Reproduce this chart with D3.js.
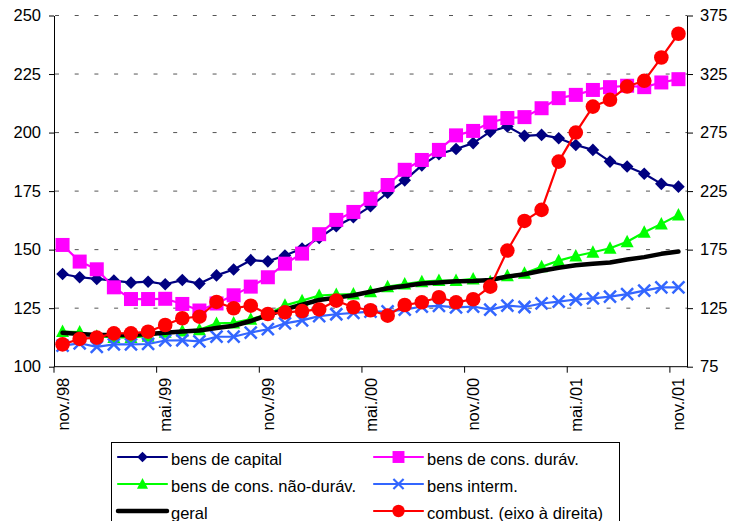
<!DOCTYPE html>
<html><head><meta charset="utf-8">
<script src="https://cdn.jsdelivr.net/npm/d3@7/dist/d3.min.js"></script>
<style>
html,body{margin:0;padding:0;background:#fff;}
svg{display:block;font-family:"Liberation Sans",Arial,sans-serif;}
</style></head>
<body>
<script>
const months = ["nov./98","dez./98","jan./99","fev./99","mar./99","abr./99","mai./99","jun./99","jul./99","ago./99","set./99","out./99",
"nov./99","dez./99","jan./00","fev./00","mar./00","abr./00","mai./00","jun./00","jul./00","ago./00","set./00","out./00",
"nov./00","dez./00","jan./01","fev./01","mar./01","abr./01","mai./01","jun./01","jul./01","ago./01","set./01","out./01","nov./01"];

const bensCapital = [139.6,138.2,137.5,136.8,135.9,136.3,135.2,137,135.5,139,141.5,145.5,145,147.5,150.5,155,160,163.8,168.5,174.3,179.6,186,190.8,193,195.5,200.4,202.6,198.6,199,197.6,194.7,192.6,187.6,185.5,182.4,178.1,176.9];
const bensDuraveis = [152,144.9,141.6,133.9,128.9,128.9,129,126.8,124,127,130.5,134.2,138.2,144,148.3,156.6,162.7,166.1,171.7,177.6,184.1,188.3,192.6,198.8,200.7,204.3,206.2,206.6,210.4,214.7,216.1,218.2,219.4,220,219.4,221.4,222.8];
const bensNaoDuraveis = [115,114.8,113,112.5,112.5,113,114.7,115.3,115.8,118.5,118.7,120.3,122.4,126.2,128.2,130.4,130.8,131,132,134.2,135.3,136.3,136.8,136.8,137.5,136.3,138.8,139.9,142.7,145.3,147.3,148.9,150.6,153.4,157.4,161,164.8];
const bensInterm = [109,110,108.5,109.5,109.5,109.7,111.2,111.3,110.8,112.8,112.8,114.6,116,118.5,119.8,121.6,122.4,123,123.5,123.6,124.4,125.7,126,125.3,125.7,124.4,126.1,125.5,127,127.8,128.7,129.2,129.9,131,132.5,133.9,133.9];
const geral = [114.5,114,113.5,113.5,113.5,114,114.5,115,115.5,116.5,117.5,119.5,122,124.5,126.5,128.5,129.5,130.5,132,133.5,134.5,135.5,136,136.5,136.6,137,138.5,139.5,141,142.3,143.3,144,144.5,145.8,146.8,148.2,149.2];
const combust = [94.1,98.7,99.8,103.5,103.5,104.9,110.6,116.4,117.7,130.3,124.9,127.1,120,121.4,122.5,123.9,131.4,125.8,123.2,118.6,127.7,130,134.3,130,132.6,143.4,174.2,199.5,209,250.2,275,297.2,303,314.3,319.2,339.1,359.4];

const leftTicks = [100,125,150,175,200,225,250];
const rightTicks = [75,125,175,225,275,325,375];
const xLabelEvery = 6;

const W = 729, H = 521;
const plotL = 54, plotR = 687, plotT = 15.5, plotB = 366.7;

const svg = d3.select("body").append("svg").attr("width", W).attr("height", H);

const x = d3.scaleBand().domain(months).range([plotL, plotR]).paddingInner(0).paddingOuter(0);
const yL = d3.scaleLinear().domain([100, 250]).range([plotB, plotT]);
const yR = d3.scaleLinear().domain([75, 375]).range([plotB, plotT]);
const cx = m => x(m) + x.bandwidth() / 2;

// gridlines
svg.append("g").selectAll("line").data(leftTicks.filter(v => v > 100)).join("line")
  .attr("x1", plotL).attr("x2", plotR)
  .attr("y1", d => yL(d)).attr("y2", d => yL(d))
  .attr("stroke", "#555").attr("stroke-width", 1).attr("stroke-dasharray", "4,15.7")
  .attr("stroke-dashoffset", -1);

const fs = 16.5;
// left axis
const gL = svg.append("g").attr("transform", `translate(${plotL},0)`)
  .call(d3.axisLeft(yL).tickValues(leftTicks).tickSize(5).tickSizeOuter(0).tickPadding(8));
gL.select(".domain").attr("stroke", "#000");
gL.selectAll("line").attr("stroke", "#000");
gL.selectAll("text").attr("font-size", fs).attr("font-family", "Liberation Sans, Arial, sans-serif").attr("fill", "#000");

// right axis
const gR = svg.append("g").attr("transform", `translate(${plotR},0)`)
  .call(d3.axisRight(yR).tickValues(rightTicks).tickSize(6).tickSizeOuter(0).tickPadding(7));
gR.select(".domain").attr("stroke", "#000");
gR.selectAll("line").attr("stroke", "#000");
gR.selectAll("text").attr("font-size", fs).attr("font-family", "Liberation Sans, Arial, sans-serif").attr("fill", "#000");

// bottom axis
svg.append("line").attr("x1", plotL).attr("x2", plotR).attr("y1", plotB).attr("y2", plotB).attr("stroke", "#000");
const tickMonths = months.filter((m, i) => i % xLabelEvery === 0);
svg.append("g").selectAll("line").data(tickMonths).join("line")
  .attr("x1", d => x(d)).attr("x2", d => x(d))
  .attr("y1", plotB).attr("y2", plotB + 6).attr("stroke", "#000");
svg.append("g").selectAll("text").data(tickMonths).join("text")
  .attr("transform", d => `translate(${cx(d) + 6},${plotB + 11}) rotate(-90)`)
  .attr("text-anchor", "end").attr("font-size", fs).attr("fill", "#000")
  .text(d => d);

// series
const series = [
  {name: "bens de capital", data: bensCapital, scale: yL, color: "#000080", width: 2.2, marker: "diamond"},
  {name: "bens de cons. duráv.", data: bensDuraveis, scale: yL, color: "#FF00FF", width: 2.2, marker: "square"},
  {name: "bens de cons. não-duráv.", data: bensNaoDuraveis, scale: yL, color: "#00FF00", width: 2.2, marker: "triangle"},
  {name: "bens interm.", data: bensInterm, scale: yL, color: "#3366FF", width: 2.2, marker: "x"},
  {name: "geral", data: geral, scale: yL, color: "#000000", width: 4.5, marker: null},
  {name: "combust. (eixo à direita)", data: combust, scale: yR, color: "#FF0000", width: 2.2, marker: "circle"}
];

function drawMarker(g, type, color) {
  if (type === "diamond") {
    g.append("path").attr("d", "M0,-6.3L6.3,0L0,6.3L-6.3,0Z").attr("fill", color);
  } else if (type === "square") {
    g.append("rect").attr("x", -7).attr("y", -7).attr("width", 14).attr("height", 14).attr("fill", color);
  } else if (type === "triangle") {
    g.append("path").attr("d", "M0,-7L6.5,5.5L-6.5,5.5Z").attr("fill", color);
  } else if (type === "x") {
    g.append("path").attr("d", "M-6,-6L6,6M-6,6L6,-6").attr("stroke", color).attr("stroke-width", 2.5).attr("fill", "none");
  } else if (type === "circle") {
    g.append("circle").attr("r", 7.3).attr("fill", color);
  }
}

series.forEach(s => {
  const line = d3.line().x((d, i) => cx(months[i])).y(d => s.scale(d));
  const g = svg.append("g");
  g.append("path").datum(s.data).attr("d", line)
    .attr("fill", "none").attr("stroke", s.color).attr("stroke-width", s.width)
    .attr("stroke-linejoin", "round").attr("stroke-linecap", "round");
  if (s.marker) {
    s.data.forEach((d, i) => {
      const mg = g.append("g").attr("transform", `translate(${cx(months[i])},${s.scale(d)})`);
      drawMarker(mg, s.marker, s.color);
    });
  }
});

// legend
const lg = svg.append("g");
lg.append("rect").attr("x", 111.5).attr("y", 442.5).attr("width", 508).attr("height", 100)
  .attr("fill", "#fff").attr("stroke", "#000").attr("stroke-width", 1);
const cols = [118, 374];
const rows = [457, 484, 511];
series.forEach((s, i) => {
  const lx = cols[i % 2], ly = rows[Math.floor(i / 2)];
  const g = lg.append("g");
  g.append("line").attr("x1", lx).attr("x2", lx + 49).attr("y1", ly).attr("y2", ly)
    .attr("stroke", s.color).attr("stroke-width", s.marker ? 2.2 : 4.5).attr("stroke-linecap", "round");
  if (s.marker) {
    const mg = g.append("g").attr("transform", `translate(${lx + 24.5},${ly}) scale(0.85)`);
    drawMarker(mg, s.marker, s.color);
  }
  g.append("text").attr("x", lx + 53).attr("y", ly + 8).attr("font-size", fs).attr("fill", "#000").text(s.name);
});
</script>
</body></html>
